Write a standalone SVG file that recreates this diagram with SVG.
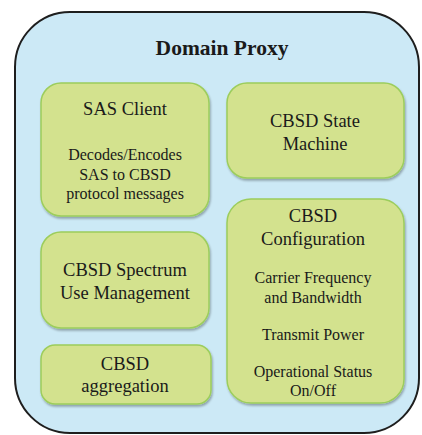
<svg xmlns="http://www.w3.org/2000/svg" width="422" height="435" viewBox="0 0 422 435">
<defs>
<filter id="sh" x="-10%" y="-10%" width="120%" height="125%">
<feDropShadow dx="1" dy="2" stdDeviation="1.2" flood-color="#000" flood-opacity="0.3"/>
</filter>
</defs>
<style>
.box{fill:#d3e28e;stroke:#9ccd5c;stroke-width:1.5;filter:url(#sh)}
.t{fill:#1a1a1a;text-anchor:middle}
.h{font-size:18.5px}
.b{font-size:16px}
</style>
<rect width="422" height="435" fill="#ffffff"/>
<g font-family="Liberation Serif, DejaVu Serif, serif">
<g id="domain-proxy">
<rect x="15" y="12" width="404" height="421" rx="55" ry="55" fill="#cce9f6" stroke="#1e1e1e" stroke-width="2"/>
<text class="t" x="222" y="55" font-size="21.5" font-weight="bold">Domain Proxy</text>
</g>
<g id="sas-client">
<rect class="box" x="41" y="83" width="168" height="133" rx="20"/>
<text class="t h" x="125" y="115">SAS Client</text>
<text class="t b" x="125" y="160">Decodes/Encodes</text>
<text class="t b" x="125" y="180">SAS to CBSD</text>
<text class="t b" x="125" y="199">protocol messages</text>
</g>
<g id="cbsd-state-machine">
<rect class="box" x="227" y="83" width="177" height="95" rx="20"/>
<text class="t h" x="315" y="127">CBSD State</text>
<text class="t h" x="315" y="150">Machine</text>
</g>
<g id="cbsd-spectrum">
<rect class="box" x="41" y="232" width="168" height="96" rx="20"/>
<text class="t h" x="125" y="276">CBSD Spectrum</text>
<text class="t h" x="125" y="299">Use Management</text>
</g>
<g id="cbsd-aggregation">
<rect class="box" x="41" y="345" width="170" height="59" rx="14"/>
<text class="t h" x="125" y="370">CBSD</text>
<text class="t h" x="125" y="392">aggregation</text>
</g>
<g id="cbsd-configuration">
<rect class="box" x="227" y="199" width="177" height="204" rx="24"/>
<text class="t h" x="313" y="222">CBSD</text>
<text class="t h" x="313" y="245">Configuration</text>
<text class="t b" x="313" y="283">Carrier Frequency</text>
<text class="t b" x="313" y="303">and Bandwidth</text>
<text class="t b" x="313" y="340">Transmit Power</text>
<text class="t b" x="313" y="377">Operational Status</text>
<text class="t b" x="313" y="396">On/Off</text>
</g>
</g>
<g id="connectors"/>
</svg>
